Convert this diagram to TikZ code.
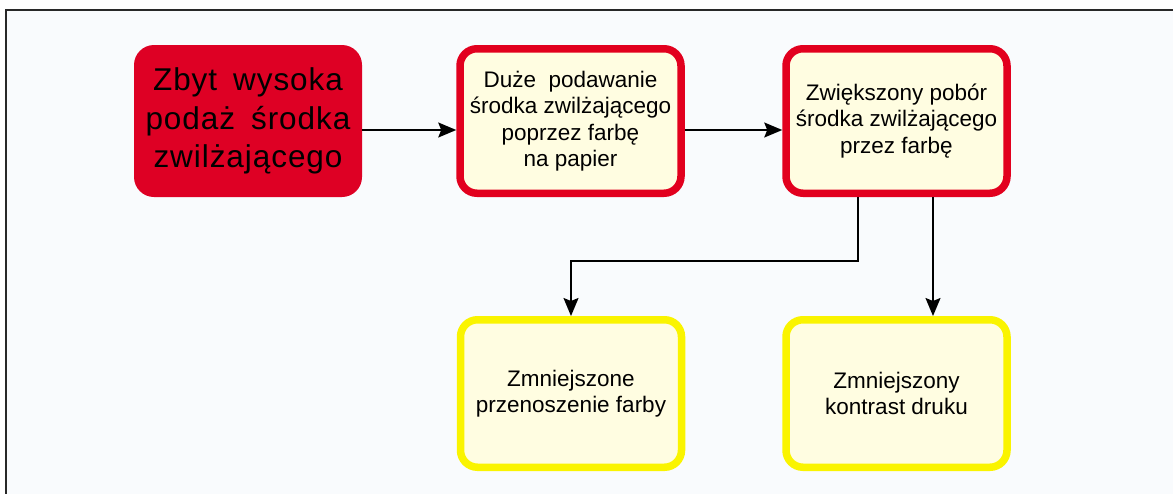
\documentclass[tikz,border=0pt]{standalone}
\usepackage{fontspec}
\setmainfont{Liberation Sans}
\usetikzlibrary{arrows.meta}

\definecolor{alarmred}{RGB}{222,0,36}
\definecolor{ringred}{RGB}{226,0,30}
\definecolor{ringyellow}{RGB}{250,244,0}
\definecolor{cream}{RGB}{255,253,225}
\definecolor{paper}{RGB}{249,251,253}
\definecolor{framegray}{RGB}{40,40,40}

\tikzset{
  causebox/.style={fill=alarmred, rounded corners=20pt,
    minimum width=228pt, minimum height=152pt, inner sep=0pt, align=center,
    font=\fontsize{31.5}{38.5}\selectfont\addfontfeature{LetterSpace=3}},
  effectbox/.style={draw=ringred, line width=7.5pt, fill=cream, rounded corners=17pt,
    minimum width=221pt, minimum height=144.5pt, inner sep=0pt, align=center,
    font=\fontsize{22.5}{26.5}\selectfont},
  resultbox/.style={effectbox, draw=ringyellow, minimum height=147.5pt},
  flow/.style={line width=1.8pt, -{Stealth[length=18pt,width=15pt,inset=3pt]}},
}

\begin{document}
\begin{tikzpicture}[x=1pt, y=-1pt]
  \useasboundingbox (0,0) rectangle (1173,493);
  % sheet with its frame, running past the right and bottom edges
  \draw[framegray, line width=1.6pt, fill=paper] (6,10) rectangle (1200,520);

  % boxes
  \node[causebox]  (b1) at (248,121)
    {Zbyt\hspace{16pt}wysoka\\podaż\hspace{16pt}środka\\zwilżającego};
  \node[effectbox] (b2) at (570.5,121)
    {Duże~ podawanie\\środka zwilżającego\\poprzez farbę\\na papier};
  \node[effectbox] (b3) at (896.5,121)
    {Zwiększony pobór\\środka zwilżającego\\przez farbę};
  \node[resultbox] (b4) at (571,393.5)
    {Zmniejszone\\przenoszenie farby};
  \node[resultbox] (b5) at (896.5,393.5)
    {Zmniejszony\\kontrast druku};

  % connectors
  \draw[flow] ([yshift=-9pt]b1.east) -- ([yshift=-9pt]b2.west);
  \draw[flow] ([yshift=-9pt]b2.east) -- ([yshift=-9pt]b3.west);
  \draw[flow] ([xshift=-38.5pt]b3.south) |- ([yshift=55pt]b4.north) -- (b4.north);
  \draw[flow] ([xshift=36.5pt]b3.south) -- ([xshift=36.5pt]b3.south |- b5.north);
\end{tikzpicture}
\end{document}
